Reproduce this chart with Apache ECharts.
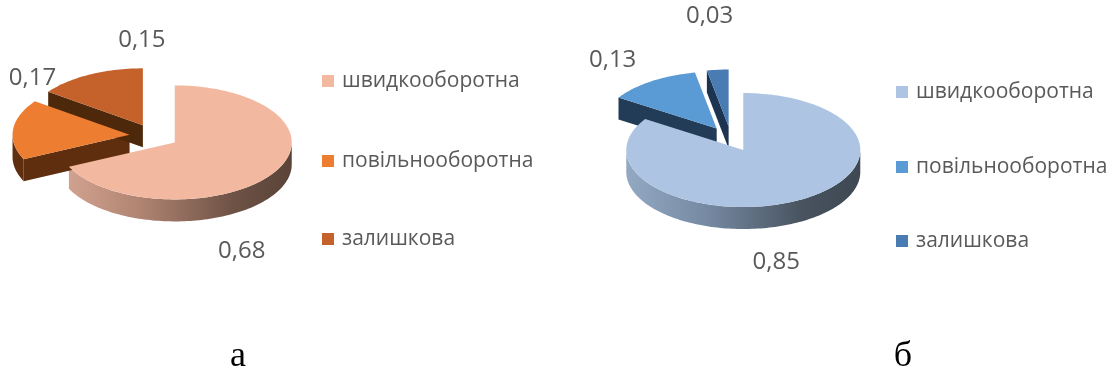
<!DOCTYPE html>
<html>
<head>
<meta charset="utf-8">
<script src="https://cdn.jsdelivr.net/npm/echarts@6/dist/echarts.min.js"></script>
<style>
  html, body { margin: 0; padding: 0; background: #ffffff; }
  #chart { width: 1116px; height: 374px; }
</style>
</head>
<body>
<div id="chart"></div>
<script>
// Structure of current assets: two exploded 3D pies (а, б)
const categories = ['швидкооборотна', 'повільнооборотна', 'залишкова'];
const valuesA = [0.68, 0.17, 0.15];
const valuesB = [0.85, 0.13, 0.03];
const captions = ['а', 'б'];

// Layout and styling of each pie
const pieA = {
  cx: 154, cy: 136, rx: 117, ry: 57, depth: 22, explode: 0.21,
  top: ['#F3B8A0', '#ED7D31', '#C5622B'],
  side: [
    [[0, '#D6A693'], [0.35, '#B08472'], [0.75, '#6E5246'], [1, '#5A4338']],
    '#5E2E0E',
    '#4E280B'
  ],
  labelOffset: [[67, 109], [-97, -57], [-1, -85]],
  legend: { x: 322, y: [81, 161, 239] },
  caption: { x: 238, y: 357 }
};
const pieB = {
  cx: 731, cy: 139, rx: 117, ry: 57, depth: 22, explode: 0.22,
  top: ['#ADC4E3', '#5B9BD5', '#497CB3'],
  side: [
    [[0, '#93A8C2'], [0.35, '#7589A2'], [0.75, '#48535F'], [1, '#3E4853']],
    '#223B57',
    '#1D3450'
  ],
  labelOffset: [[33, 112], [-104, -68], [-19, -110]],
  legend: { x: 896, y: [92, 167, 241] },
  caption: { x: 903, y: 357 }
};

const TEXT = '#595959';
const LABEL_FONT = '"Open Sans", "Noto Sans", sans-serif';

function sliceGeometry(vals, i, L) {
  const total = vals.reduce((s, v) => s + v, 0);
  let acc = 0;
  for (let k = 0; k < i; k++) acc += vals[k];
  const a0 = acc / total * 2 * Math.PI;
  const a1 = (acc + vals[i]) / total * 2 * Math.PI;
  const am = (a0 + a1) / 2;
  const ox = L.cx + L.explode * L.rx * Math.sin(am);
  const oy = L.cy - L.explode * L.ry * Math.cos(am);
  const pt = (t, dz) => [ox + L.rx * Math.sin(t), oy - L.ry * Math.cos(t) + (dz || 0)];
  const arc = (from, to, dz) => {
    const n = Math.max(2, Math.ceil(Math.abs(to - from) * 40));
    const pts = [];
    for (let s = 0; s <= n; s++) pts.push(pt(from + (to - from) * s / n, dz));
    return pts;
  };
  return { a0, a1, ox, oy, pt, arc };
}

function solidSide(L, i) {
  const c = L.side[i];
  return typeof c === 'string' ? c : c[c.length - 1][1];
}

function sideFill(L, i, g) {
  const c = L.side[i];
  if (typeof c === 'string') return c;
  return new echarts.graphic.LinearGradient(g.ox - L.rx, 0, g.ox + L.rx, 0,
    c.map(s => ({ offset: s[0], color: s[1] })), true);
}

function wallsRenderer(vals, L) {
  return function (params) {
    const i = params.dataIndex;
    const g = sliceGeometry(vals, i, L);
    const d = L.depth;
    const children = [];
    const v = [g.ox, g.oy];
    const vb = [g.ox, g.oy + d];
    // radial face at the start edge
    if (Math.sin(g.a0) < -1e-6) {
      const e = g.pt(g.a0), eb = g.pt(g.a0, d);
      children.push({ type: 'polygon', shape: { points: [v, e, eb, vb] },
        style: { fill: solidSide(L, i) } });
    }
    // radial face at the end edge
    if (Math.sin(g.a1) > 1e-6) {
      const e = g.pt(g.a1), eb = g.pt(g.a1, d);
      children.push({ type: 'polygon', shape: { points: [v, e, eb, vb] },
        style: { fill: solidSide(L, i) } });
    }
    // curved outer wall, front half only
    const lo = Math.max(g.a0, Math.PI / 2), hi = Math.min(g.a1, 3 * Math.PI / 2);
    if (hi > lo) {
      const pts = g.arc(lo, hi, 0).concat(g.arc(hi, lo, d));
      children.push({ type: 'polygon', shape: { points: pts }, style: { fill: sideFill(L, i, g) } });
    }
    return { type: 'group', children };
  };
}

function topsRenderer(vals, L) {
  return function (params) {
    const i = params.dataIndex;
    const g = sliceGeometry(vals, i, L);
    const pts = [[g.ox, g.oy]].concat(g.arc(g.a0, g.a1, 0));
    const off = L.labelOffset[i];
    return {
      type: 'group',
      children: [
        { type: 'polygon', shape: { points: pts }, style: { fill: L.top[i] } },
        { type: 'text', style: {
            text: vals[i].toFixed(2).replace('.', ','),
            x: g.ox + off[0], y: g.oy + off[1],
            align: 'center', verticalAlign: 'middle',
            fill: TEXT, fontSize: 24, fontFamily: LABEL_FONT } }
      ]
    };
  };
}

function pieSeries(vals, L) {
  return [
    { type: 'custom', coordinateSystem: 'none', z: 1, silent: true,
      renderItem: wallsRenderer(vals, L), data: vals },
    { type: 'custom', coordinateSystem: 'none', z: 2, silent: true,
      renderItem: topsRenderer(vals, L), data: vals }
  ];
}

function legendGraphics(L) {
  const out = [];
  categories.forEach((name, i) => {
    out.push({ type: 'rect', shape: { x: L.legend.x, y: L.legend.y[i] - 6, width: 12, height: 12 },
      style: { fill: L.top[i] } });
    out.push({ type: 'text', style: { text: name, x: L.legend.x + 20, y: L.legend.y[i],
      verticalAlign: 'middle', fill: TEXT, fontSize: 21, fontFamily: LABEL_FONT } });
  });
  return out;
}

function captionGraphic(L, text) {
  return { type: 'text', style: { text, x: L.caption.x, y: L.caption.y, align: 'center',
    verticalAlign: 'middle', fill: '#000000', fontSize: 36, fontFamily: '"Liberation Serif", serif' } };
}

const chart = echarts.init(document.getElementById('chart'), null, { renderer: 'canvas' });
chart.setOption({
  backgroundColor: '#ffffff',
  animation: false,
  series: pieSeries(valuesA, pieA).concat(pieSeries(valuesB, pieB)),
  graphic: legendGraphics(pieA).concat(legendGraphics(pieB))
    .concat([captionGraphic(pieA, captions[0]), captionGraphic(pieB, captions[1])])
});
</script>
</body>
</html>
